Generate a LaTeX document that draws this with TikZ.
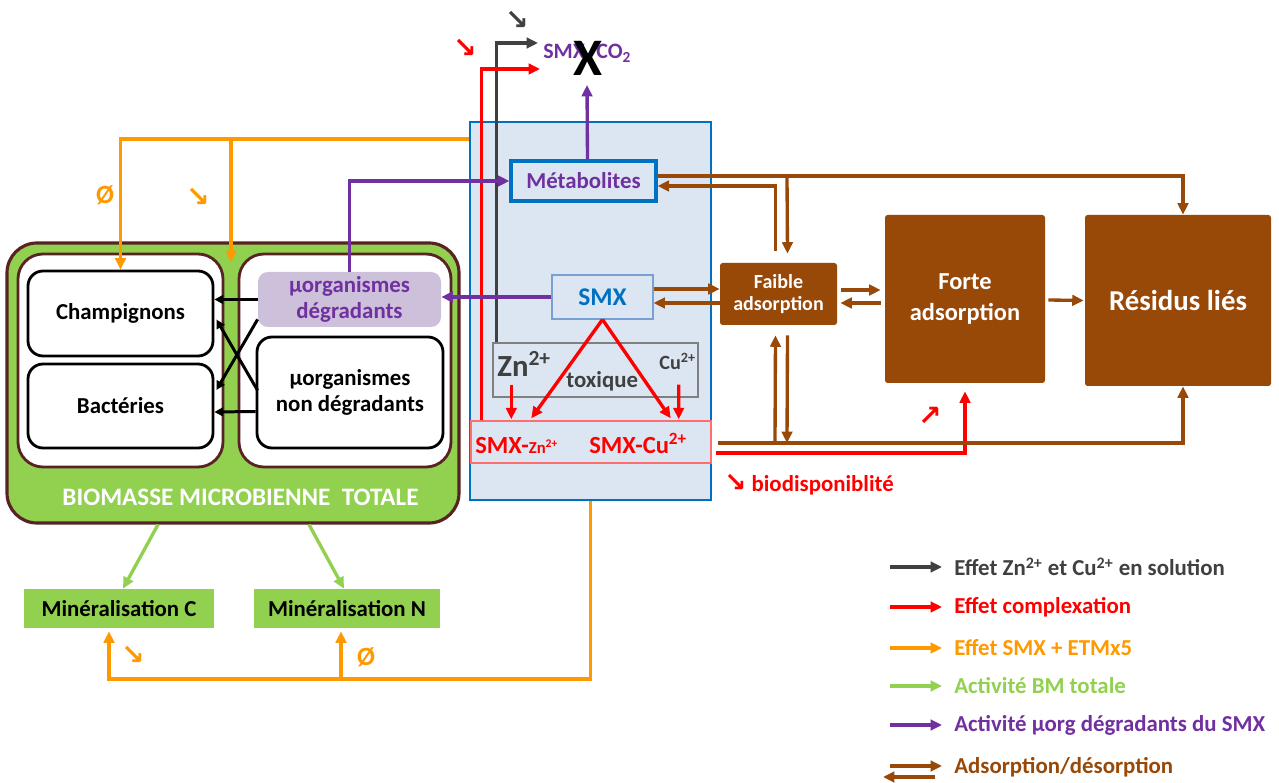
\documentclass[tikz,border=0pt]{standalone}
\usepackage{fontspec}
\setmainfont{Carlito}
\newfontfamily\arrowfont{DejaVu Sans}
\usetikzlibrary{arrows.meta,calc}

\definecolor{cdark}{RGB}{64,64,64}
\definecolor{cred}{RGB}{255,0,0}
\definecolor{corange}{RGB}{255,153,0}
\definecolor{cgreen}{RGB}{146,208,80}
\definecolor{cpurple}{RGB}{112,48,160}
\definecolor{cbrown}{RGB}{152,72,7}
\definecolor{cblue}{RGB}{0,112,192}
\definecolor{cpale}{RGB}{220,230,242}
\definecolor{clilac}{RGB}{204,192,218}
\definecolor{cmaroon}{RGB}{89,35,35}
\definecolor{csteel}{RGB}{120,160,210}
\definecolor{cpink}{RGB}{255,110,110}

\newcommand{\fsz}[2]{\fontsize{#1}{#2}\selectfont}

\begin{document}
\begin{tikzpicture}[
      x=0.02cm, y=-0.02cm,
      wh/.style 2 args={minimum width=#1*0.02cm, minimum height=#2*0.02cm},
      box/.style={inner sep=0pt, align=center, font=\bfseries\fsz{13}{15}},
      lbl/.style={inner sep=0pt, font=\bfseries\fsz{13}{15}},
      sym/.style={inner sep=0pt, font=\arrowfont\bfseries\fsz{16}{17}},
      micro/.style={box, draw=black, fill=white, line width=1.6pt, rounded corners=0.3cm},
      shell/.style={box, draw=cmaroon, fill=white, line width=1.6pt, rounded corners=0.5cm},
      brownbox/.style={box, fill=cbrown, text=white, rounded corners=1.5pt},
      mineral/.style={box, fill=cgreen, text=black},
      tip/.style={-{Triangle[length=6.5pt,width=6pt]}},
      solnarrow/.style={tip, line width=1.9pt, draw=cdark},
      cplxarrow/.style={tip, line width=1.9pt, draw=cred},
      etmarrow/.style={tip, line width=1.9pt, draw=corange},
      bmarrow/.style={tip, line width=1.9pt, draw=cgreen},
      degarrow/.style={tip, line width=1.9pt, draw=cpurple},
      adsarrow/.style={tip, line width=1.9pt, draw=cbrown},
      innerarrow/.style={-{Triangle[length=5pt,width=5pt]}, line width=1.7pt, draw=black},
    ]
    \useasboundingbox (0,0) rectangle (1279,783);

    % Solution compartment
    \node[box, wh={241}{378}, draw=cblue, fill=cpale, line width=1.7pt] (sol) at (590.5,311) {};
    \node[box, wh={145}{40}, draw=cblue, fill=cpale, line width=1.8pt, text=cpurple] (metab) at (583.5,181) {Métabolites};
    \node[box, wh={101}{44}, draw=csteel, fill=cpale, line width=0.6pt, text=cblue, font=\bfseries\fsz{14.5}{16}] (smx) at (602.5,297) {SMX};
    \node[box, wh={205}{54}, draw=gray, line width=0.8pt] (tox) at (595.5,370) {};
    \node[lbl, anchor=base west, text=cdark, font=\bfseries\fsz{17.5}{19}] (zn) at (497,377) {Zn\textsuperscript{2+}};
    \node[lbl, anchor=base west, text=cdark] (toxl) at (566,388) {toxique};
    \node[lbl, anchor=base west, text=cdark, font=\bfseries\fsz{11.5}{13}] (cu) at (659,370) {Cu\textsuperscript{2+}};
    \node[box, wh={240}{42}, draw=cpink, line width=0.8pt] (cplx) at (591,442) {};
    \node[lbl, anchor=base west, text=cred, font=\bfseries\fsz{14}{16}] (smxzn) at (475,454) {SMX-{\fsz{9.5}{11}Zn\textsuperscript{2+}}};
    \node[lbl, anchor=base west, text=cred, font=\bfseries\fsz{14}{16}] (smxcu) at (589,454) {SMX-Cu\textsuperscript{2+}};

    % Top: mineralisation blocked
    \node[lbl, anchor=base west, text=cpurple, font=\bfseries\fsz{12.5}{14}] (smxtop) at (543,59) {SMX};
    \node[lbl, anchor=base west, text=cpurple, font=\bfseries\fsz{12.5}{14}] (co2) at (596,59) {CO\textsubscript{2}};
    \node[lbl, font=\bfseries\fsz{30}{31}] (cross) at (588,58) {X};
    \coordinate (solntip) at (538,43);
    \coordinate (cplxtip) at (540,69);
    \coordinate (degtip) at (587,85);
    \node[sym, text=cdark] (soldown) at (517,20) {↘};
    \node[sym, text=cred] (cplxdown) at (465,48) {↘};

    % Adsorption compartments
    \node[brownbox, wh={117}{62}, font=\bfseries\fsz{11.4}{13}] (faible) at (778.5,294) {Faible\\adsorption};
    \node[brownbox, wh={160}{168}, font=\bfseries\fsz{13.9}{17.6}] (forte) at (965,299) {Forte\\adsorption};
    \node[brownbox, wh={186}{171}, font=\bfseries\fsz{16.4}{18}] (resid) at (1178,300.5) {Résidus liés};
    \node[lbl, anchor=base west, text=cred] (biodisp) at (724,492) {{\arrowfont\fsz{15}{16}↘} biodisponiblité};
    \node[sym, text=cred] (forteup) at (930,416) {↗};

    % Microbial biomass
    \node[box, wh={452}{280}, draw=cmaroon, fill=cgreen, line width=1.8pt, rounded corners=0.6cm] (biomass) at (233,383) {};
    \node[shell, wh={205}{213}] (leftin) at (120.5,360.5) {};
    \node[shell, wh={212}{213}] (rightin) at (345,360.5) {};
    \node[micro, wh={185}{85}] (champ) at (120.5,313.5) {Champignons};
    \node[micro, wh={185}{84}] (bact) at (120.5,406) {Bactéries};
    \node[box, wh={183}{55}, fill=clilac, rounded corners=0.2cm, text=cpurple] (degr) at (349.5,299.5) {µorganismes\\dégradants};
    \node[micro, wh={186}{111}] (nondeg) at (350,392.5) {µorganismes\\non dégradants};
    \node[lbl, text=white, font=\bfseries\fsz{14.3}{16}] (bmlabel) at (240.5,497) {BIOMASSE MICROBIENNE\ \ TOTALE};

    % Mineralisation
    \node[mineral, wh={190}{39}] (minc) at (119,608.5) {Minéralisation C};
    \node[mineral, wh={186}{39}] (minn) at (347,608.5) {Minéralisation N};

    % Orange labels
    \node[lbl, text=corange, font=\bfseries\fsz{15}{16}] (nulchamp) at (105,195) {Ø};
    \node[sym, text=corange] (downbm) at (198,197) {↘};
    \node[sym, text=corange] (downc) at (133,655) {↘};
    \node[lbl, text=corange, font=\bfseries\fsz{15}{16}] (nuln) at (366,657) {Ø};

    % Black arrows (solution)
    \draw[solnarrow] ($(tox.north west)+(4,0)$) |- (solntip);

    % Red arrows (complexation)
    \draw[cplxarrow] ($(cplx.north west)+(11,0)$) |- (cplxtip);
    \draw[cplxarrow] (smx.south) -- ($(cplx.north west)+(61,-2)$);
    \draw[cplxarrow] (smx.south) -- ($(cplx.north east)+(-41,-2)$);
    \draw[cplxarrow] ($(tox.south west)+(19,-13)$) -- ($(cplx.north west)+(41,-1)$);
    \draw[cplxarrow] ($(tox.south east)+(-20,-13)$) -- ($(cplx.north east)+(-33,-1)$);
    \draw[cplxarrow] ($(cplx.east)+(4,11)$) -| ($(forte.south)+(0,8)$);

    % Purple arrows
    \draw[degarrow] ($(metab.north)+(4,0)$) -- (degtip);
    \draw[degarrow] (degr.north) |- (metab.west);
    \draw[degarrow] (smx.west) -- (smx.west -| degr.east);

    % Orange arrows
    \coordinate (etmsplit) at (231,139);
    \coordinate (etmgap) at (231,262);
    \draw[etmarrow] (sol.west |- etmsplit) -| (champ.north);
    \draw[etmarrow] (etmsplit) -- (etmgap);
    \coordinate (etmleft) at (109,679);
    \coordinate (etmmid) at (341,679);
    \draw[etmarrow] (sol.south) |- (etmleft) -- ($(etmleft |- minc.south)+(0,3)$);
    \draw[etmarrow] (etmmid) -- ($(etmmid |- minn.south)+(0,3)$);

    % Green arrows
    \draw[bmarrow] ($(biomass.south)+(-75,0)$) -- ($(minc.north)+(4,0)$);
    \draw[bmarrow] ($(biomass.south)+(76,0)$) -- ($(minn.north)+(-3,0)$);

    % Black arrows inside biomass
    \draw[innerarrow] (degr.west) -- (degr.west -| champ.east);
    \draw[innerarrow] ($(degr.south west)+(0,-8)$) -- ($(bact.east)+(2,-16)$);
    \draw[innerarrow] ($(nondeg.west)+(2,-2)$) -- ($(champ.east)+(2,6)$);
    \draw[innerarrow] ($(nondeg.west)+(0,19)$) -- ($(bact.east)+(0,6)$);

    % Brown arrows (adsorption)
    \draw[adsarrow] ($(smx.east)+(0,-8)$) -- ($(faible.west)+(0,-5)$);
    \draw[adsarrow] ($(faible.west)+(0,9)$) -- ($(smx.east)+(0,6)$);
    \draw[adsarrow] ($(faible.east)+(4,-4)$) -- ($(forte.west)+(-4,-9)$);
    \draw[adsarrow] ($(forte.west)+(-4,4)$) -- ($(faible.east)+(3,9)$);
    \draw[adsarrow] ($(forte.east)+(3,1)$) -- ($(resid.west)+(-1,0)$);
    \coordinate (adstop) at (787,176);
    \draw[adsarrow] ($(metab.east)+(0,-5)$) -| ($(resid.north)+(5,0)$);
    \draw[adsarrow] (adstop) -- ($(faible.north)+(9,-9)$);
    \draw[adsarrow] ($(faible.north)+(-3,-12)$) |- ($(metab.east)+(0,5)$);
    \coordinate (adsbotl) at (775,443);
    \coordinate (adsbotr) at (787,443);
    \draw[adsarrow] ($(cplx.east)+(6,1)$) -| ($(resid.south)+(5,0)$);
    \draw[adsarrow] (adsbotl) -- ($(faible.south)+(-3,10)$);
    \draw[adsarrow] ($(faible.south)+(9,10)$) -- (adsbotr);

    % Legend
    \node[lbl, anchor=west, text=cdark] (leg1) at (954,567) {Effet Zn\textsuperscript{2+} et Cu\textsuperscript{2+} en solution};
    \node[lbl, anchor=west, text=cred] (leg2) at (954,607) {Effet complexation};
    \node[lbl, anchor=west, text=corange] (leg3) at (954,648) {Effet SMX + ETMx5};
    \node[lbl, anchor=west, text=cgreen] (leg4) at (954,686) {Activité BM totale};
    \node[lbl, anchor=west, text=cpurple] (leg5) at (954,725) {Activité µorg dégradants du SMX};
    \node[lbl, anchor=west, text=cbrown] (leg6) at (954,767) {Adsorption/désorption};
    \draw[solnarrow] ($(leg1.west)+(-64,0)$) -- ($(leg1.west)+(-12,0)$);
    \draw[cplxarrow] ($(leg2.west)+(-64,0)$) -- ($(leg2.west)+(-12,0)$);
    \draw[etmarrow] ($(leg3.west)+(-64,0)$) -- ($(leg3.west)+(-12,0)$);
    \draw[bmarrow] ($(leg4.west)+(-64,0)$) -- ($(leg4.west)+(-12,0)$);
    \draw[degarrow] ($(leg5.west)+(-64,0)$) -- ($(leg5.west)+(-12,0)$);
    \draw[adsarrow] ($(leg6.west)+(-64,-1)$) -- ($(leg6.west)+(-12,-1)$);
    \draw[adsarrow] ($(leg6.west)+(-19,10)$) -- ($(leg6.west)+(-71,10)$);

  \end{tikzpicture}
\end{document}
